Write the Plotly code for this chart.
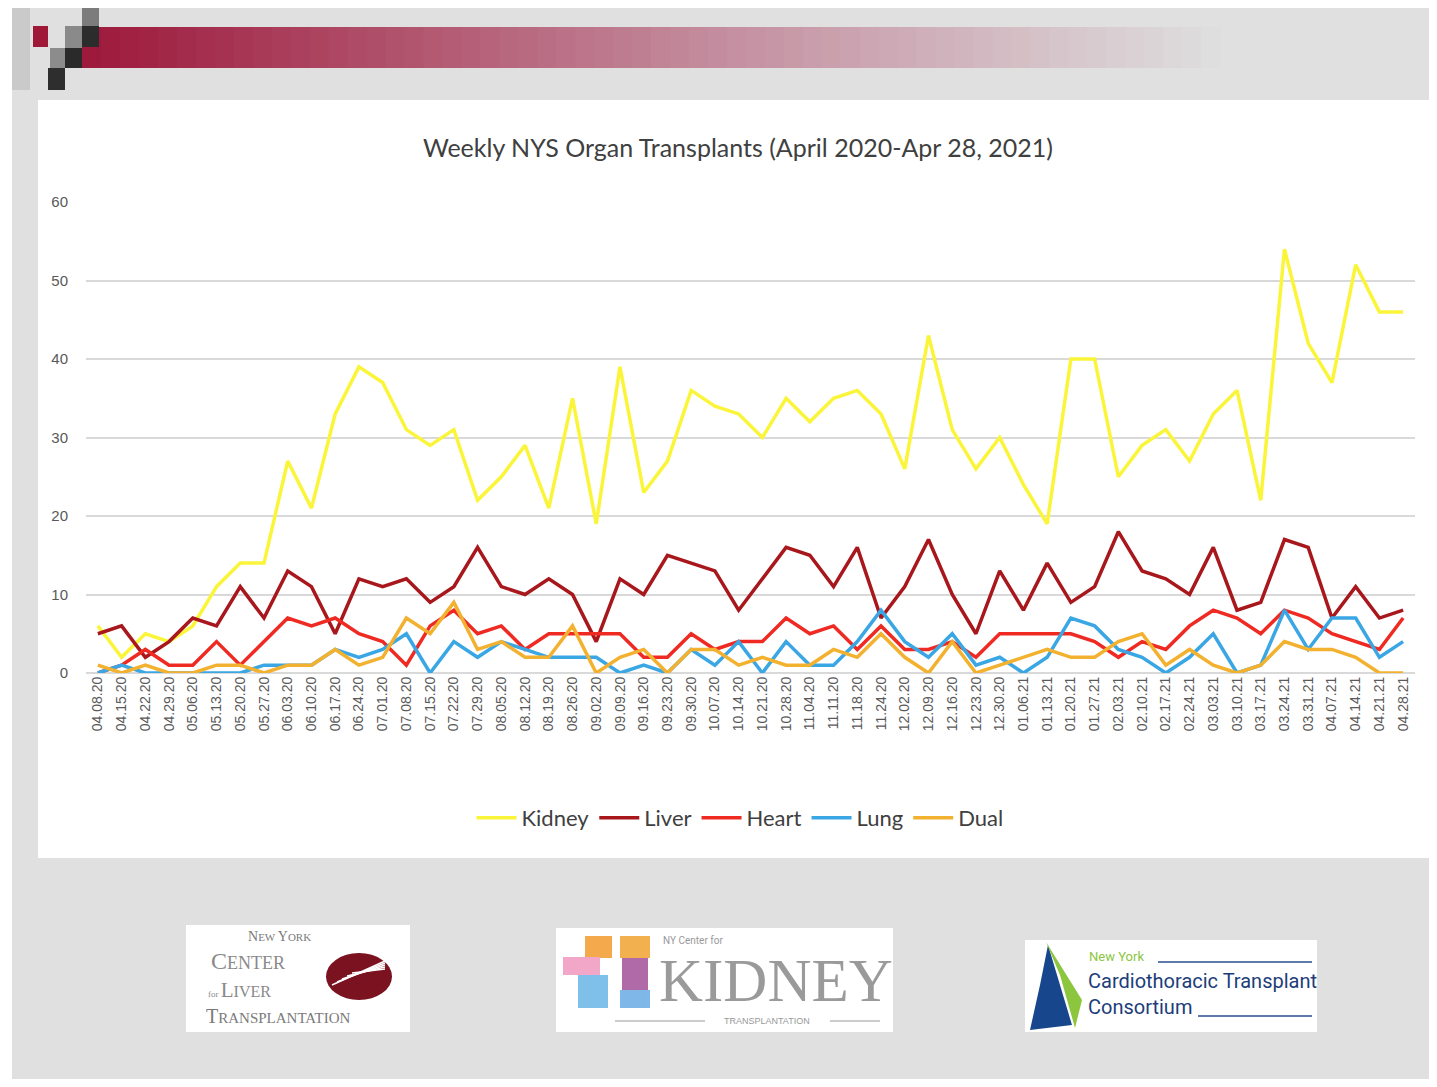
import plotly.graph_objects as go

# week labels
weeks = ["04.08.20", "04.15.20", "04.22.20", "04.29.20", "05.06.20", "05.13.20", "05.20.20",
         "05.27.20", "06.03.20", "06.10.20", "06.17.20", "06.24.20", "07.01.20", "07.08.20",
         "07.15.20", "07.22.20", "07.29.20", "08.05.20", "08.12.20", "08.19.20", "08.26.20",
         "09.02.20", "09.09.20", "09.16.20", "09.23.20", "09.30.20", "10.07.20", "10.14.20",
         "10.21.20", "10.28.20", "11.04.20", "11.11.20", "11.18.20", "11.24.20", "12.02.20",
         "12.09.20", "12.16.20", "12.23.20", "12.30.20", "01.06.21", "01.13.21", "01.20.21",
         "01.27.21", "02.03.21", "02.10.21", "02.17.21", "02.24.21", "03.03.21", "03.10.21",
         "03.17.21", "03.24.21", "03.31.21", "04.07.21", "04.14.21", "04.21.21", "04.28.21"]

kidney = [6, 2, 5, 4, 6, 11, 14, 14, 27, 21, 33, 39, 37, 31,
          29, 31, 22, 25, 29, 21, 35, 19, 39, 23, 27, 36, 34, 33,
          30, 35, 32, 35, 36, 33, 26, 43, 31, 26, 30, 24, 19, 40,
          40, 25, 29, 31, 27, 33, 36, 22, 54, 42, 37, 52, 46, 46]
liver = [5, 6, 2, 4, 7, 6, 11, 7, 13, 11, 5, 12, 11, 12,
         9, 11, 16, 11, 10, 12, 10, 4, 12, 10, 15, 14, 13, 8,
         12, 16, 15, 11, 16, 7, 11, 17, 10, 5, 13, 8, 14, 9,
         11, 18, 13, 12, 10, 16, 8, 9, 17, 16, 7, 11, 7, 8]
heart = [0, 1, 3, 1, 1, 4, 1, 4, 7, 6, 7, 5, 4, 1,
         6, 8, 5, 6, 3, 5, 5, 5, 5, 2, 2, 5, 3, 4,
         4, 7, 5, 6, 3, 6, 3, 3, 4, 2, 5, 5, 5, 5,
         4, 2, 4, 3, 6, 8, 7, 5, 8, 7, 5, 4, 3, 7]
lung = [0, 1, 0, 0, 0, 0, 0, 1, 1, 1, 3, 2, 3, 5,
        0, 4, 2, 4, 3, 2, 2, 2, 0, 1, 0, 3, 1, 4,
        0, 4, 1, 1, 4, 8, 4, 2, 5, 1, 2, 0, 2, 7,
        6, 3, 2, 0, 2, 5, 0, 1, 8, 3, 7, 7, 2, 4]
dual = [1, 0, 1, 0, 0, 1, 1, 0, 1, 1, 3, 1, 2, 7,
        5, 9, 3, 4, 2, 2, 6, 0, 2, 3, 0, 3, 3, 1,
        2, 1, 1, 3, 2, 5, 2, 0, 4, 0, 1, 2, 3, 2,
        2, 4, 5, 1, 3, 1, 0, 1, 4, 3, 3, 2, 0, 0]

series = [("Kidney", kidney, "#fbf53a"), ("Liver", liver, "#a8171c"),
          ("Heart", heart, "#ee2a22"), ("Lung", lung, "#3aa7e4"), ("Dual", dual, "#f3b130")]

# page is drawn with the browser's 8px body margin, so work in page pixels
OFF = 8
W, H = 1437 - 2 * OFF, 1087 - 2 * OFF
L, R, T, B = 86, 1415, 202, 673


def px(x):
    return (x - L) / (R - L)


def py(y):
    return (B - y) / (B - T)


fig = go.Figure()
for name, vals, col in series:
    fig.add_trace(go.Scatter(x=weeks, y=vals, name=name, mode="lines",
                             line=dict(color=col, width=3.5)))

shapes = []


def rect(x0, y0, x1, y1, color, layer="below"):
    shapes.append(dict(type="rect", xref="paper", yref="paper", x0=px(x0), x1=px(x1),
                       y0=py(y1), y1=py(y0), fillcolor=color, line=dict(width=0), layer=layer))


# slide background pieces
rect(0, 0, 12, 1100, "#ffffff")
rect(38, 100, 1450, 858, "#ffffff")

# top gradient bar (stepped)
c0 = (158, 26, 60)
c1 = (196, 140, 158)
c2 = (222, 222, 222)
n = 60
x_start, x_end = 82, 1220
for k in range(n):
    t = k / (n - 1)
    if t < 0.55:
        u = t / 0.55
        c = [int(c0[j] + (c1[j] - c0[j]) * u) for j in range(3)]
    else:
        u = (t - 0.55) / 0.45
        c = [int(c1[j] + (c2[j] - c1[j]) * u) for j in range(3)]
    xa = x_start + (x_end - x_start) * k / n
    xb = x_start + (x_end - x_start) * (k + 1) / n + 1
    rect(xa, 27, xb, 68, "rgb(%d,%d,%d)" % tuple(c))

# pixel blocks
rect(33, 26, 48, 47, "#a01838")
rect(65, 26, 82, 48, "#8a8a8a")
rect(82, 5, 99, 26, "#7c7c7c")
rect(82, 26, 99, 47, "#2c2c2c")
rect(50, 48, 65, 68, "#8c8c8c")
rect(65, 48, 82, 68, "#2a2a2a")
rect(48, 68, 65, 90, "#2e2e2e")
rect(12, 5, 30, 90, "#cacaca")

# logo boxes
rect(186, 925, 410, 1032, "#ffffff")
rect(556, 928, 893, 1032, "#ffffff")
rect(1025, 940, 1317, 1032, "#ffffff")

# kidney logo colour blocks
rect(585, 936, 612, 958, "#f4a94c")
rect(563, 957, 600, 975, "#f2a6c8")
rect(578, 975, 608, 1008, "#7fc0ea")
rect(620, 936, 650, 958, "#f2b04f")
rect(622, 958, 648, 990, "#b06aa8")
rect(620, 990, 650, 1008, "#7fb8e8")

# liver logo ellipse with stripes
shapes.append(dict(type="circle", xref="paper", yref="paper", x0=px(326), x1=px(392),
                   y0=py(1000), y1=py(953), fillcolor="#7a1220", line=dict(width=0)))
for k in range(5):
    shapes.append(dict(type="line", xref="paper", yref="paper",
                       x0=px(332 + 5 * k), y0=py(985 - 3 * k), x1=px(385), y1=py(961 + 2 * k),
                       line=dict(color="#ffffff", width=1.5)))
# heart logo shape
shapes.append(dict(type="path", xref="paper", yref="paper",
                   path="M %f %f L %f %f L %f %f L %f %f Z" % (px(1048), py(945), px(1072), py(1025),
                                                               px(1030), py(1030), px(1040), py(985)),
                   fillcolor="#17468c", line=dict(width=0)))
shapes.append(dict(type="path", xref="paper", yref="paper",
                   path="M %f %f L %f %f L %f %f L %f %f Z" % (px(1046), py(942), px(1082), py(1000),
                                                               px(1075), py(1028), px(1060), py(975)),
                   fillcolor="#8cc63f", line=dict(width=0)))
for x0, y0, x1 in [(1158, 962, 1312), (1198, 1016, 1312)]:
    shapes.append(dict(type="line", xref="paper", yref="paper", x0=px(x0), x1=px(x1),
                       y0=py(y0), y1=py(y0), line=dict(color="#2a4c8c", width=1.5)))
for x0, x1 in [(615, 705), (830, 880)]:
    shapes.append(dict(type="line", xref="paper", yref="paper", x0=px(x0), x1=px(x1),
                       y0=py(1021), y1=py(1021), line=dict(color="#999999", width=1)))

annotations = []


def text(x, y, s, size, color, family="Liberation Serif", anchor="center"):
    annotations.append(dict(x=px(x), y=py(y), xref="paper", yref="paper", text=s,
                            showarrow=False, xanchor=anchor, yanchor="middle", borderpad=0,
                            font=dict(size=size, color=color, family=family)))


def sc(first, rest, small):
    return "%s<span style='font-size:%dpx'>%s</span>" % (first, small, rest)


text(247, 937, sc("N", "EW ", 11) + sc("Y", "ORK", 11), 14, "#7a7a7a", anchor="left")
text(210, 961, sc("C", "ENTER", 18), 24, "#8a8a8a", anchor="left")
text(207, 990, "<span style='font-size:9px'>for </span>" + sc("L", "IVER", 16), 21, "#8a8a8a",
     anchor="left")
text(205, 1016, sc("T", "RANSPLANTATION", 15), 20, "#7a7a7a", anchor="left")
text(662, 941, "NY Center for", 10, "#999999", "Roboto", "left")
text(776, 980, "KIDNEY", 61, "#9a9a9a", "Liberation Serif")
text(767, 1021, "TRANSPLANTATION", 9, "#999999", "Liberation Sans")
text(1088, 956, "New York", 13, "#8cc63f", "Roboto", "left")
text(1087, 981, "Cardiothoracic Transplant", 20, "#1d3d7a", "Roboto", "left")
text(1087, 1007, "Consortium", 20, "#1d3d7a", "Roboto", "left")

fig.update_layout(
    width=W, height=H,
    margin=dict(l=L - OFF, r=W + OFF - R, t=T - OFF, b=H + OFF - B),
    paper_bgcolor="#e0e0e0",
    plot_bgcolor="rgba(0,0,0,0)",
    title=dict(text="Weekly NYS Organ Transplants (April 2020-Apr 28, 2021)",
               x=(738 - OFF) / W, xanchor="center", y=1 - (148 - OFF) / H, yanchor="middle",
               font=dict(family="Lato", size=25, color="#404040")),
    showlegend=True,
    legend=dict(orientation="h", x=px(740), xanchor="center", y=py(818), yanchor="middle",
                font=dict(family="Lato", size=22, color="#404040"),
                bgcolor="rgba(0,0,0,0)", itemwidth=40, tracegroupgap=0),
    shapes=shapes,
    annotations=annotations,
)
fig.update_xaxes(type="category", range=[-0.5, len(weeks) - 0.5], tickangle=-90,
                 showgrid=False, showline=False,
                 tickfont=dict(family="Liberation Sans", size=14, color="#595959"),
                 ticks="", ticklen=0)
fig.update_yaxes(range=[0, 60], dtick=10, showgrid=True, gridcolor="#d9d9d9", gridwidth=2,
                 zeroline=True, zerolinecolor="#d9d9d9", zerolinewidth=2, showline=False,
                 tickfont=dict(family="Liberation Sans", size=15, color="#595959"),
                 ticks="outside", ticklen=14, tickcolor="rgba(0,0,0,0)")

fig.write_html("out.html")
